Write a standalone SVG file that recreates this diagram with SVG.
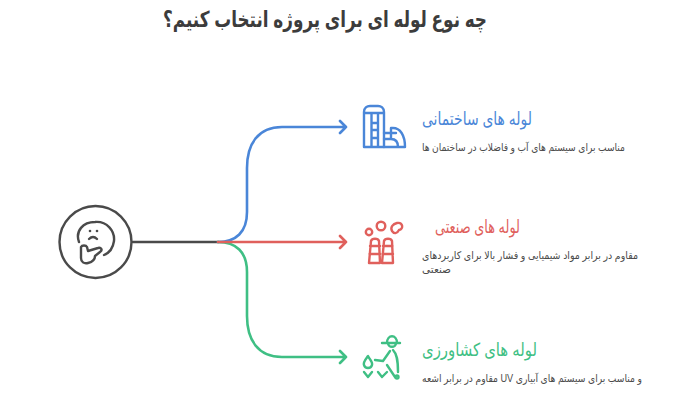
<svg xmlns="http://www.w3.org/2000/svg" width="700" height="400" viewBox="0 0 700 400">
<style>
text{font-family:"Liberation Sans","DejaVu Sans",sans-serif;direction:rtl}
.h{font-size:18px}
.d{font-size:10.500px;fill:#4a4a4a}
.l{fill:none;stroke-width:2.600;stroke-linecap:round;stroke-linejoin:round}
.i{fill:none;stroke-width:2.400;stroke-linecap:round;stroke-linejoin:round}
.b{stroke:#4a86d8}.r{stroke:#e0605c}.g{stroke:#3fbf84}.k{stroke:#4a4a4a}
</style>
<rect width="700" height="400" fill="#fff"/>
<text id="title" x="487" y="27" font-size="22" font-weight="700" fill="#3c3c3c" textLength="324" lengthAdjust="spacingAndGlyphs">چه نوع لوله ای برای پروژه انتخاب کنیم؟</text>
<g id="connectors">
<path class="l k" d="M133 242H218"/>
<path class="l b" d="M218 242C236 242 247 232 247 212V168C247 144 258 127 282 127H346M340 121L346 127L340 133"/>
<path class="l g" d="M218 242C236 242 247 252 247 272V316C247 340 258 357 282 357H346M340 351L346 357L340 363"/>
<path class="l r" d="M218 242H346M340 236L346 242L340 248"/>
</g>
<g id="node-center">
<circle cx="95.500" cy="242" r="36" fill="none" stroke="#4a4a4a" stroke-width="2.400"/>
<path class="i k" d="M79 242C75 231 83 222 95 222C107 221 115 231 114 241C113 248 109 253 104 255"/>
<circle cx="90" cy="231" r="1.300" fill="#4a4a4a"/><circle cx="97" cy="231" r="1.300" fill="#4a4a4a"/>
<path class="i k" d="M89 239Q93 235 97 239"/>
<path class="i k" d="M81 247V258C81 262 84 264 88 263C92 262 95 260 95 256L100 252C103 250 101 247 98 248L88 251L87 247C86 245 82 245 81 247Z"/>
</g>
<g id="node-building">
<path class="i b" d="M364 147V112C364 108 367 106 370 106H378C381 106 384 108 384 112V147ZM364 113H384M371.500 113V147M378 113V147M371.500 123H378M371.500 130H378M371.500 138H378"/>
<path class="i b" d="M384 133H396M391 128H393C400 128 405 135 405 147H384M398 147C398 142 396 139 391 139H384M391 128V139"/>
</g>
<text class="h" id="t1" x="532" y="125" style="fill:#4a86d8" textLength="110" lengthAdjust="spacingAndGlyphs">لوله های ساختمانی</text>
<text class="d" id="d1" x="625" y="151" textLength="203" lengthAdjust="spacingAndGlyphs">مناسب برای سیستم های آب و فاضلاب در ساختمان ها</text>
<g id="node-factory">
<path class="i r" d="M369 263L371 241C372 238 378 238 379 241L380 263ZM382 263L384 241C385 238 391 238 392 241L393 263ZM370 246H380M369.500 254H380M383 246H392.500M382.500 254H393"/>
<circle cx="369" cy="232" r="3.200" class="i r"/><circle cx="381" cy="226" r="4.300" class="i r"/>
<path class="i r" d="M392 231C390 227 393 224 397 223C403 222 404 229 399 230C397 234 394 234 392 231Z"/>
</g>
<text class="h" id="t2" x="520" y="233" style="fill:#e0605c" textLength="85" lengthAdjust="spacingAndGlyphs">لوله های صنعتی</text>
<text class="d" id="d2a" x="638" y="259" textLength="216" lengthAdjust="spacingAndGlyphs">مقاوم در برابر مواد شیمیایی و فشار بالا برای کاربردهای</text>
<text class="d" id="d2b" x="451" y="273" textLength="29" lengthAdjust="spacingAndGlyphs">صنعتی</text>
<g id="node-farm">
<path class="i g" d="M382 343H400M387 343C387 334 397 334 397 343M388 343C388 348 396 348 396 343"/>
<path class="i g" d="M390 351L383 361L375 360M393 350C397 354 398 360 398 372M387 365L395 377"/>
<circle cx="397" cy="377" r="1.500" class="i g"/>
<path class="i g" d="M368 356C365 360 363 362 364 365C365 369 371 369 372 365C373 362 370 360 368 356Z"/>
<path class="i g" d="M364 372L368 377L372 372M378 372L382 377L387 372"/>
</g>
<text class="h" id="t3" x="537" y="356" style="fill:#3fbf84" textLength="115" lengthAdjust="spacingAndGlyphs">لوله های کشاورزی</text>
<text class="d" id="d3" x="642" y="382" textLength="220" lengthAdjust="spacingAndGlyphs">و مناسب برای سیستم های آبیاری UV مقاوم در برابر اشعه</text>
</svg>
